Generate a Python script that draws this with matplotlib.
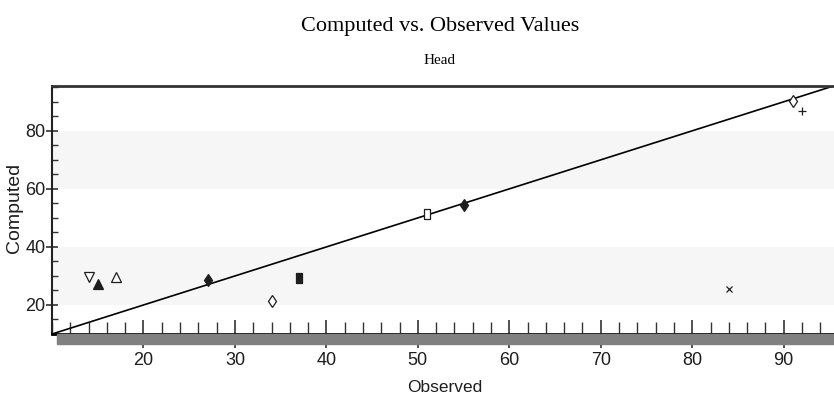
import matplotlib.pyplot as plt
from matplotlib.patches import Rectangle
from matplotlib.ticker import MultipleLocator

# observed / computed head values, one marker style per well
observed = [14, 15, 17, 27, 34, 37, 51, 55, 84, 91, 92]
computed = [29.6, 27.1, 29.8, 28.6, 21.5, 29.2, 51.4, 54.5, 25.4, 90.1, 86.9]
markers = ['v', '^', '^', 'd', 'd', 's', 's', 'd', 'x', 'd', '+']
filled = [False, True, False, True, False, True, False, True, True, False, True]

bands = [(20, 40), (60, 80)]
xticks = [20, 30, 40, 50, 60, 70, 80, 90]
yticks = [20, 40, 60, 80]

sans = ['Liberation Sans', 'DejaVu Sans']
serif = ['Liberation Serif', 'DejaVu Serif']
ink = '#1e1e1e'

fig = plt.figure(figsize=(8.34, 4.0), dpi=100)
ax = fig.add_axes([0.0624, 0.165, 0.9376, 0.619])

for lo, hi in bands:
    ax.axhspan(lo, hi, color='#f6f6f6', zorder=0, lw=0)

ax.plot([10, 100], [10, 100], color='black', lw=1.2, zorder=2)

rect = [(-0.55, -1), (0.55, -1), (0.55, 1), (-0.55, 1), (-0.55, -1)]
for x, y, m, f in zip(observed, computed, markers, filled):
    mk = rect if m == 's' else m
    ms = {'v': 6.5, '^': 6.5, 'd': 6.5, 's': 7, 'x': 5, '+': 6}[m]
    if m in ('x', '+'):
        ax.plot(x, y, marker=mk, ms=ms, color=ink, mew=0.9, ls='none', zorder=3)
    else:
        ax.plot(x, y, marker=mk, ms=ms, ls='none', zorder=3,
                mfc=ink if f else 'white', mec=ink, mew=0.9)

ax.set_xlim(10, 95.5)
ax.set_ylim(10, 95.3)
ax.set_xticks(xticks)
ax.set_yticks(yticks)
ax.xaxis.set_minor_locator(MultipleLocator(2))
ax.yaxis.set_minor_locator(MultipleLocator(5))

ax.tick_params(axis='x', which='major', direction='inout', length=20, width=1.2,
               color='#333333', labelsize=13, labelcolor=ink, pad=3)
ax.tick_params(axis='x', which='minor', direction='in', length=8.5, width=1.0,
               color='#333333')
ax.tick_params(axis='y', which='major', direction='inout', length=8.5, width=1.2,
               color='#333333', labelsize=13, labelcolor=ink, pad=0.5)
ax.tick_params(axis='y', which='minor', direction='in', length=4.3, width=1.0,
               color='#333333')
for lab in ax.get_xticklabels() + ax.get_yticklabels():
    lab.set_family(sans)

ax.spines['right'].set_visible(False)
ax.spines['top'].set_linewidth(2)
ax.spines['top'].set_color('#333333')
ax.spines['left'].set_linewidth(1.5)
ax.spines['left'].set_color('#222222')
ax.spines['bottom'].set_linewidth(2)
ax.spines['bottom'].set_color('black')

# grey floor under the x axis
fig.patches.append(Rectangle((57 / 834, 1 - 344 / 400), 1 - 57 / 834, 10 / 400,
                             transform=fig.transFigure, color='#808080', zorder=0))

fig.text(440 / 834, 1 - 27 / 400, 'Computed vs. Observed Values', ha='center',
         va='center', family=serif, fontsize=16, color='black')
fig.text(440 / 834, 1 - 60 / 400, 'Head', ha='center', va='center',
         family=serif, fontsize=11, color='black')
fig.text(445 / 834, 1 - 388 / 400, 'Observed', ha='center', va='center',
         family=sans, fontsize=12.5, color=ink)
fig.text(15 / 834, 1 - 208 / 400, 'Computed', ha='center', va='center',
         rotation=90, family=sans, fontsize=14, color=ink)

fig.savefig('out.png', dpi=100)
